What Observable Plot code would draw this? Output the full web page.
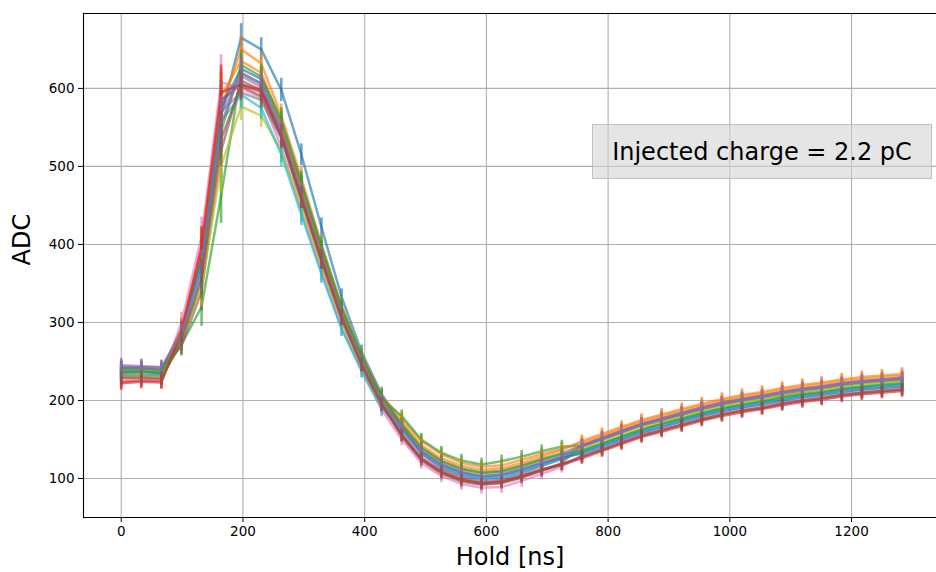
<!DOCTYPE html>
<html><head><meta charset="utf-8">
<script src="https://cdn.jsdelivr.net/npm/d3@7"></script>
<script src="https://cdn.jsdelivr.net/npm/@observablehq/plot@0.6"></script>
<style>
body{margin:0;background:#fff;font-family:"DejaVu Sans",sans-serif}
#wrap{position:relative;width:936px;height:572px;overflow:hidden}
#note{position:absolute;left:592px;top:124px;width:340px;height:55px;box-sizing:border-box;background:rgba(211,211,211,0.6);border:1px solid rgba(170,170,170,0.6);font-size:24px;display:flex;align-items:center;justify-content:center;color:#000;white-space:nowrap}
</style></head><body><div id="wrap"></div><script>
const holds = [0,33,66,99,132,164,197,230,263,296,329,362,395,428,461,493,526,559,592,625,658,691,724,757,790,822,855,888,921,954,987,1020,1053,1086,1119,1151,1184,1217,1250,1283];
const errs  = [9,9,9,13,25,35,18,15,15,14,12,10,9,9,8,8,8,8,8,8,8,8,8,8,8,8,8,8,8,8,8,8,8,8,8,8,8,8,8,8];

const ch00 = [236,237,235,287,375,565,665,650,598,515,422,333,262,208,168,132,113,103,98,100,107,116,125,135,144,153,162,170,176,183,189,194,198,203,207,210,214,217,219,221];
const ch01 = [240,241,239,292,385,575,650,632,565,485,400,322,258,206,177,148,131,120,115,117,124,131,138,146,155,164,173,180,187,194,200,205,209,214,218,221,225,228,230,232];
const ch02 = [233,233,232,272,320,462,620,606,550,472,392,315,253,202,180,150,133,123,118,122,128,135,141,142,150,159,168,174,181,188,194,199,203,207,211,215,219,222,224,226];
const ch03 = [224,226,225,290,392,585,605,595,540,462,383,308,247,195,155,125,108,98,94,96,103,111,118,128,137,146,155,162,169,176,182,187,190,196,200,203,207,210,212,214];
const ch04 = [238,238,236,288,378,568,616,602,538,455,375,302,244,194,162,132,115,105,100,103,110,118,127,140,150,159,168,175,182,189,195,200,204,209,213,216,220,223,225,227];
const ch05 = [243,243,242,270,340,520,610,598,546,468,388,313,251,199,154,123,106,96,92,94,101,110,120,142,152,161,170,177,184,191,197,202,206,211,215,218,222,225,227,229];
const ch06 = [227,228,227,300,410,608,600,588,525,442,365,293,238,188,150,120,103,93,88,89,97,106,115,130,139,148,157,164,171,178,184,189,193,198,202,205,209,212,214,216];
const ch07 = [235,236,234,290,380,570,595,585,536,456,378,305,246,196,170,140,123,113,108,110,117,125,133,142,151,160,169,176,183,190,196,201,205,210,214,217,221,224,226,228];
const ch08 = [240,240,238,278,345,500,577,565,520,448,372,302,243,194,168,138,121,111,106,108,115,123,131,138,147,156,165,172,179,186,192,197,201,206,210,213,217,220,222,224];
const ch09 = [232,232,231,284,372,558,592,575,515,438,362,292,238,190,162,133,116,106,101,103,110,118,126,134,143,152,161,168,175,182,188,193,197,202,206,209,213,216,218,220];
const ch10 = [241,241,239,290,385,575,625,612,555,475,393,316,254,202,165,135,118,108,103,105,112,120,127,132,141,150,159,166,173,180,186,191,195,200,204,207,211,214,216,218];
const ch11 = [230,231,229,292,395,590,635,620,556,470,390,314,252,201,173,143,126,116,111,113,120,128,137,148,157,166,175,182,189,196,202,207,211,216,220,223,227,230,232,234];
const ch12 = [237,237,236,280,360,545,630,615,560,480,398,320,257,205,169,139,122,112,107,109,116,124,131,136,145,154,163,170,177,184,190,195,199,204,208,211,215,218,220,222];
const ch13 = [222,224,223,288,398,595,605,598,540,460,380,306,246,195,157,127,110,100,95,97,104,112,118,126,135,144,153,160,167,174,180,185,189,194,198,201,205,208,210,212];
const ch14 = [245,244,243,285,368,555,620,606,545,465,385,310,249,198,165,135,118,108,103,105,112,120,128,143,152,161,170,177,184,191,197,202,206,211,215,218,222,225,227,229];
const ch15 = [229,229,228,276,355,535,603,590,538,460,381,307,246,195,155,125,108,98,93,95,102,110,118,128,137,146,155,162,169,176,182,187,191,196,200,203,207,210,212,214];
const channels = [ch00,ch01,ch02,ch03,ch04,ch05,ch06,ch07,ch08,ch09,ch10,ch11,ch12,ch13,ch14,ch15];

const colors = ["#1f77b4","#ff7f0e","#2ca02c","#d62728","#9467bd","#8c564b","#e377c2","#7f7f7f","#bcbd22","#17becf"];
const xTicks = [0,200,400,600,800,1000,1200];
const yTicks = [100,200,300,400,500,600];
const xDomain = [-62,1339.6];
const yDomain = [50,696];
const xLabel = "Hold [ns]";
const yLabel = "ADC";
const noteText = "Injected charge = 2.2 pC";

const marks = [
  Plot.gridX(xTicks, {stroke:"#b0b0b0", strokeOpacity:1, strokeWidth:1.1}),
  Plot.gridY(yTicks, {stroke:"#b0b0b0", strokeOpacity:1, strokeWidth:1.1})
];
channels.forEach((vals, c) => {
  const rows = vals.map((v, i) => ({hold: holds[i], adc: v, err: errs[i]}));
  const col = colors[c % colors.length];
  marks.push(Plot.line(rows, {x:"hold", y:"adc", stroke:col, strokeOpacity:0.65, strokeWidth:2.5}));
  marks.push(Plot.ruleX(rows, {x:"hold", y1:d=>d.adc-d.err, y2:d=>d.adc+d.err, stroke:col, strokeOpacity:0.65, strokeWidth:2.6}));
});
marks.push(
  Plot.ruleY([yDomain[0]], {stroke:"black", strokeWidth:1.1}),
  Plot.ruleY([yDomain[1]], {stroke:"black", strokeWidth:1.1}),
  Plot.ruleX([xDomain[0]], {stroke:"black", strokeWidth:1.1}),
  Plot.axisX({ticks:xTicks, tickSize:5, tickPadding:4, fontSize:13.5, label:null, tickFormat:d=>String(d)}),
  Plot.axisY({ticks:yTicks, tickSize:5, tickPadding:4, fontSize:13.5, label:null, tickFormat:d=>String(d)}),
  Plot.text([xLabel], {text:d=>d, frameAnchor:"bottom", dy:40, fontSize:24, lineAnchor:"middle"}),
  Plot.text([yLabel], {text:d=>d, frameAnchor:"left", dx:-61, rotate:-90, fontSize:24, lineAnchor:"middle"})
);

const chart = Plot.plot({
  width:936, height:572,
  marginLeft:83, marginRight:0, marginTop:13, marginBottom:55,
  style:{fontFamily:"DejaVu Sans", fontSize:"13.5px", color:"black", background:"white", overflow:"visible"},
  x:{domain:xDomain},
  y:{domain:yDomain},
  marks
});
const wrap = document.getElementById("wrap");
wrap.appendChild(chart);
const note = document.createElement("div");
note.id = "note";
note.textContent = noteText;
wrap.appendChild(note);
</script></body></html>
